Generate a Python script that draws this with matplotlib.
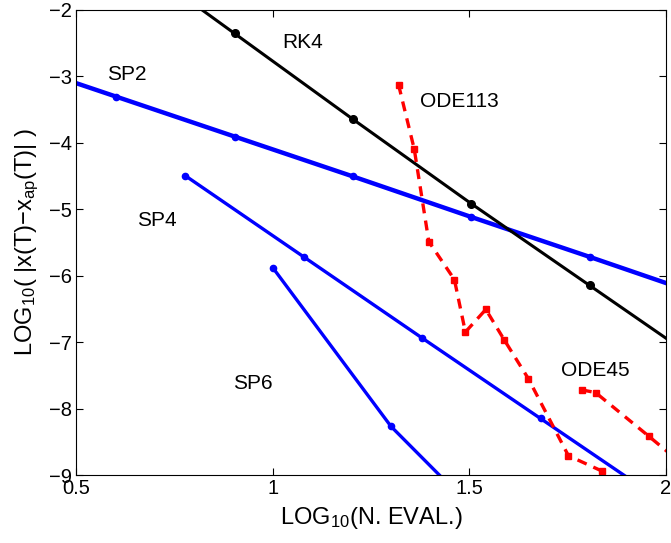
import matplotlib
matplotlib.use('Agg')
import matplotlib.pyplot as plt
import numpy as np

plt.rcParams['font.family'] = ['Liberation Sans', 'DejaVu Sans']
plt.rcParams['mathtext.default'] = 'regular'
plt.rcParams['axes.unicode_minus'] = True

# ================= DATA =================
rk4_x = [0.602, 0.903, 1.204, 1.505, 1.806, 2.107]
rk4_y = [-1.07, -2.36, -3.65, -4.92, -6.15, -7.38]

sp2_x = [0.301, 0.602, 0.903, 1.204, 1.505, 1.806, 2.107]
sp2_y = [-2.71, -3.31, -3.91, -4.51, -5.12, -5.72, -6.33]

sp4_x = [0.778, 1.079, 1.380, 1.681, 1.982]
sp4_y = [-4.50, -5.72, -6.94, -8.15, -9.36]

sp6_x = [1.000, 1.301, 1.602]
sp6_y = [-5.88, -8.27, -10.06]

ode113_x = [1.320, 1.360, 1.397, 1.462, 1.490, 1.542, 1.589, 1.650, 1.752, 1.837]
ode113_y = [-3.13, -4.10, -5.49, -6.06, -6.85, -6.51, -6.97, -7.55, -8.71, -8.94]

ode45_x = [1.786, 1.821, 1.957, 2.020]
ode45_y = [-7.72, -7.76, -8.42, -8.73]

labels = ['RK4', 'SP2', 'SP4', 'SP6', 'ODE113', 'ODE45']
label_x = [1.075, 0.629, 0.705, 0.950, 1.475, 1.821]
label_y = [-2.50, -2.97, -5.17, -7.62, -3.38, -7.43]

# ================= PLOT =================
fig = plt.figure(figsize=(6.71, 5.43), dpi=100)
ax = fig.add_axes([0.1133, 0.1252, 0.8792, 0.8573])

ax.plot(sp2_x, sp2_y, '-o', color='b', lw=3.2, ms=4.5)
ax.plot(sp4_x, sp4_y, '-o', color='b', lw=2.4, ms=4.5)
ax.plot(sp6_x, sp6_y, '-o', color='b', lw=2.4, ms=4.5)
ax.plot(rk4_x, rk4_y, '-o', color='k', lw=2.2, ms=5.5)
ax.plot(ode113_x, ode113_y, '--s', color='r', lw=2.4, ms=5, dashes=(3, 2.2))
ax.plot(ode45_x, ode45_y, '--s', color='r', lw=2.4, ms=5, dashes=(3, 2.2))

for lab, lx, ly in zip(labels, label_x, label_y):
    ax.text(lx, ly, lab, fontsize=15, ha='center', va='center')

ax.set_xlim(0.5, 2)
ax.set_ylim(-9, -2)
ax.set_xticks([0.5, 1, 1.5, 2])
ax.set_xticklabels(['0.5', '1', '1.5', '2'])
ax.set_yticks(range(-9, -1))
ax.tick_params(direction='in', top=True, right=True, labelsize=14.5, length=5, pad=3)
ax.set_xlabel('LOG$_{10}$(N. EVAL.)', fontsize=17, labelpad=5)
ax.set_ylabel('LOG$_{10}$( |x(T)\u2212x$_{ap}$(T)| )', fontsize=17, labelpad=6)

plt.savefig('out.png')
